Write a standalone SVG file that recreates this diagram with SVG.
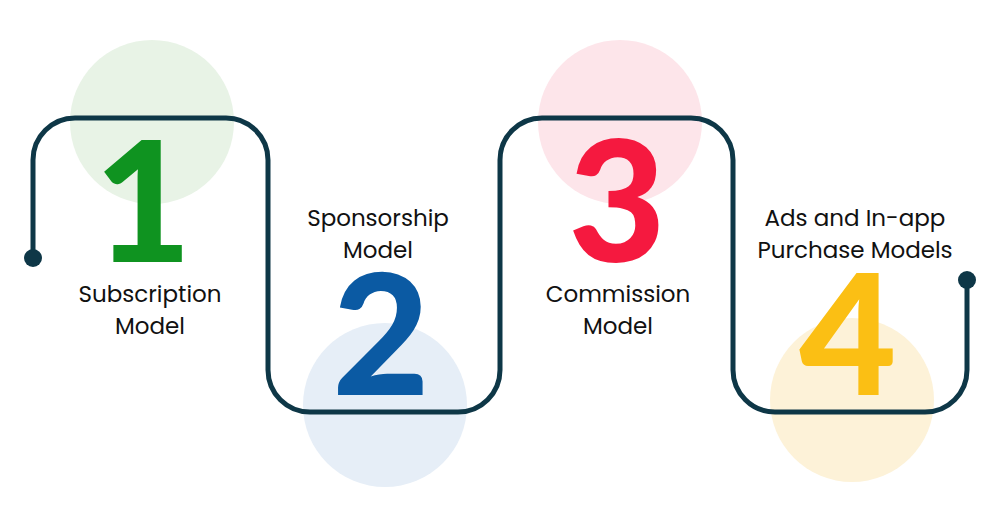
<svg xmlns="http://www.w3.org/2000/svg" width="1000" height="523" viewBox="0 0 1000 523">
<style>
.num{font-family:Lato,"Open Sans",sans-serif;font-weight:900;font-size:168px;text-anchor:middle}
.lbl{font-family:Poppins,"Open Sans",Lato,sans-serif;font-size:23px;fill:#111;text-anchor:middle}
</style>
<rect width="1000" height="523" fill="#fff"/>
<g id="node1">
<circle cx="152" cy="122" r="82" fill="#e8f3e6"/>
<text class="num" x="143" y="262" fill="#0f9320">1</text>
<text class="lbl" x="150" y="302">Subscription</text><text class="lbl" x="150" y="334">Model</text>
</g>
<g id="node2">
<circle cx="385" cy="405" r="82" fill="#e6eef7"/>
<text class="num" x="381" y="395" fill="#0b5aa3">2</text>
<text class="lbl" x="378" y="226">Sponsorship</text><text class="lbl" x="378" y="258">Model</text>
</g>
<g id="node3">
<circle cx="620" cy="122" r="82" fill="#fde5ea"/>
<text class="num" x="617" y="262" fill="#f5193f">3</text>
<text class="lbl" x="618" y="302">Commission</text><text class="lbl" x="618" y="334">Model</text>
</g>
<g id="node4">
<circle cx="852" cy="400" r="82" fill="#fdf2d8"/>
<text class="num" x="848" y="395" fill="#fbbf14">4</text>
<text class="lbl" x="855" y="226">Ads and In-app</text><text class="lbl" x="855" y="258">Purchase Models</text>
</g>
<g id="connectors" fill="none" stroke="#0e3747" stroke-width="5">
<path d="M33,258 V160 A42,42 0 0 1 75,118 H226 A42,42 0 0 1 268,160 V370 A42,42 0 0 0 310,412 H458 A42,42 0 0 0 500,370 V160 A42,42 0 0 1 542,118 H691 A42,42 0 0 1 733,160 V370 A42,42 0 0 0 775,412 H925 A42,42 0 0 0 967,370 V280"/>
<circle cx="33" cy="258" r="9" fill="#0e3747" stroke="none"/>
<circle cx="967" cy="280" r="9" fill="#0e3747" stroke="none"/>
</g>
</svg>
